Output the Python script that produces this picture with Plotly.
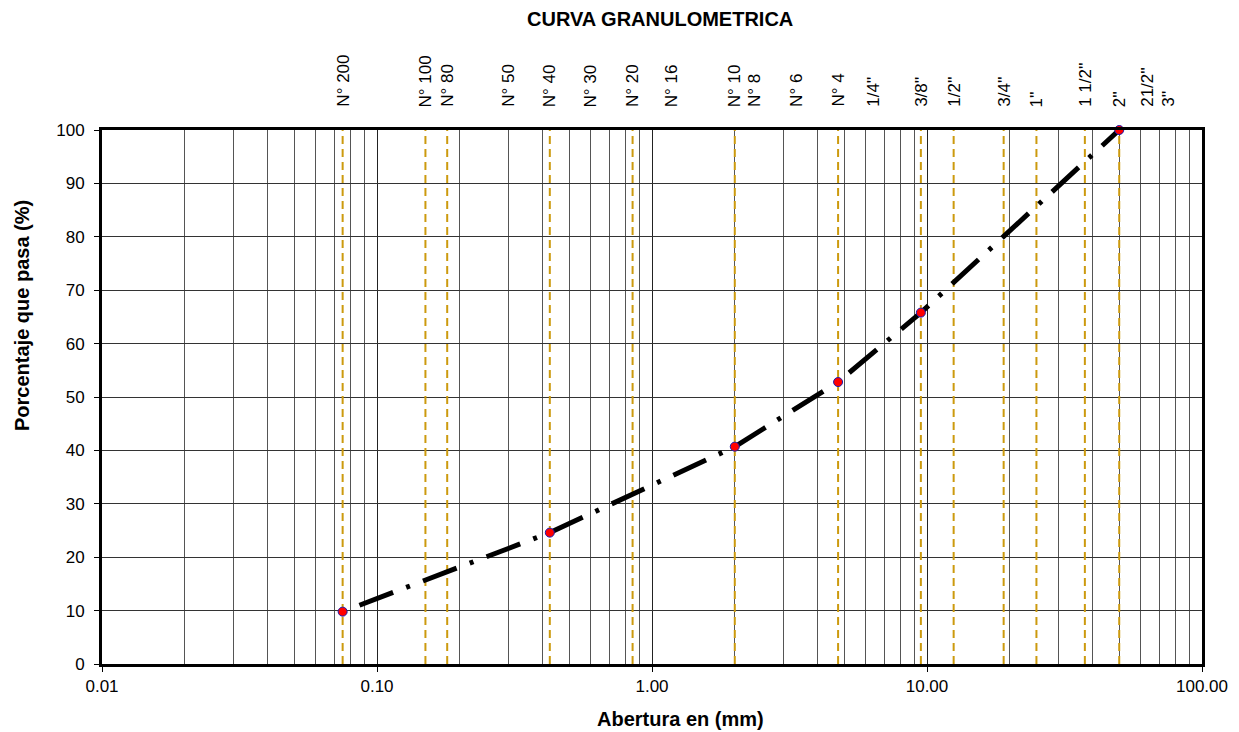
import numpy as np
import plotly.graph_objects as go

# ---- data ----
abertura_mm = [0.075, 0.425, 2.0, 4.75, 9.5, 50.0]
porcentaje_pasa = [9.8, 24.6, 40.7, 52.8, 65.8, 100.0]

# sieves with vertical dashed reference lines
tamiz_lineas = [0.075, 0.15, 0.18, 0.425, 0.85, 2.0, 4.75, 9.5, 12.5, 19.0, 25.0, 37.5, 50.0]

# labels on top
tamiz_nombres = ["N° 200", "N° 100", "N° 80", "N° 50", "N° 40", "N° 30", "N° 20", "N° 16",
                 "N° 10", "N° 8", "N° 6", "N° 4", "1/4''", "3/8''", "1/2''", "3/4''", "1''",
                 "1 1/2''", "2''", "21/2''", "3''"]
tamiz_aberturas = [0.075, 0.15, 0.18, 0.30, 0.425, 0.60, 0.85, 1.18,
                   2.0, 2.36, 3.35, 4.75, 6.35, 9.5, 12.5, 19.0, 25.0,
                   37.5, 50.0, 63.0, 75.0]

x_tick_vals = [0.01, 0.1, 1, 10, 100]
x_tick_text = ["0.01", "0.10", "1.00", "10.00", "100.00"]
x_minor_vals = [m * d for d in [0.01, 0.1, 1, 10] for m in range(2, 10)]

FONT = "Liberation Sans, Arial, sans-serif"

fig = go.Figure()

# dashed sieve lines
vx, vy = [], []
for v in tamiz_lineas:
    vx += [v, v, None]
    vy += [0, 100, None]
fig.add_trace(go.Scatter(x=vx, y=vy, mode="lines",
                         line=dict(color="#CC9A0E", width=2, dash="8px,5px"),
                         hoverinfo="skip", showlegend=False))

# curve
fig.add_trace(go.Scatter(x=abertura_mm, y=porcentaje_pasa, mode="lines",
                         line=dict(color="black", width=5, dash="4px,14px,36px,14px"),
                         showlegend=False, cliponaxis=False))
fig.add_trace(go.Scatter(x=abertura_mm, y=porcentaje_pasa, mode="markers",
                         marker=dict(color="#FF0000", size=9, line=dict(color="#1A1AB0", width=1)),
                         showlegend=False, cliponaxis=False))

annotations = []
for name, v in zip(tamiz_nombres, tamiz_aberturas):
    annotations.append(dict(x=float(np.log10(v)), xref="x", y=1, yref="paper",
                            text=name, textangle=-90, showarrow=False,
                            xanchor="center", yanchor="bottom", yshift=21,
                            font=dict(family=FONT, size=17, color="black")))

annotations.append(dict(x=0.507, xref="paper", y=1, yref="paper", yshift=111,
                        text="<b>CURVA GRANULOMETRICA</b>", showarrow=False,
                        xanchor="center", yanchor="middle",
                        font=dict(family=FONT, size=20, color="black")))
annotations.append(dict(x=0.5255, xref="paper", y=0, yref="paper", yshift=-55,
                        text="<b>Abertura en (mm)</b>", showarrow=False,
                        xanchor="center", yanchor="middle",
                        font=dict(family=FONT, size=20, color="black")))
annotations.append(dict(x=0, xref="paper", y=0.6517, yref="paper", xshift=-80,
                        text="<b>Porcentaje que pasa (%)</b>", showarrow=False, textangle=-90,
                        xanchor="center", yanchor="middle",
                        font=dict(family=FONT, size=20, color="black")))

fig.update_layout(
    width=1239, height=732,
    margin=dict(l=102, r=37, t=130, b=68),
    paper_bgcolor="white", plot_bgcolor="white",
    font=dict(family=FONT, size=17, color="black"),
    annotations=annotations,
    showlegend=False,
)

fig.update_xaxes(type="log", range=[-2, 2],
                 tickvals=x_tick_vals, ticktext=x_tick_text,
                 showgrid=True, gridcolor="#222", gridwidth=1,
                 minor=dict(tickvals=x_minor_vals, showgrid=True, gridcolor="#555",
                            gridwidth=1, ticks=""),
                 showline=True, linecolor="black", linewidth=3, mirror=True,
                 ticks="outside", ticklen=5, tickcolor="black", tickwidth=1,
                 tickfont=dict(family=FONT, size=17, color="black"),
                 zeroline=False)
fig.update_yaxes(range=[0, 100], dtick=10, tick0=0,
                 showgrid=True, gridcolor="#333", gridwidth=1,
                 showline=True, linecolor="black", linewidth=3, mirror=True,
                 ticks="outside", ticklen=5, tickcolor="black", tickwidth=1,
                 ticklabelstandoff=6,
                 tickfont=dict(family=FONT, size=17, color="black"),
                 zeroline=False)

fig.write_html("out.html")
